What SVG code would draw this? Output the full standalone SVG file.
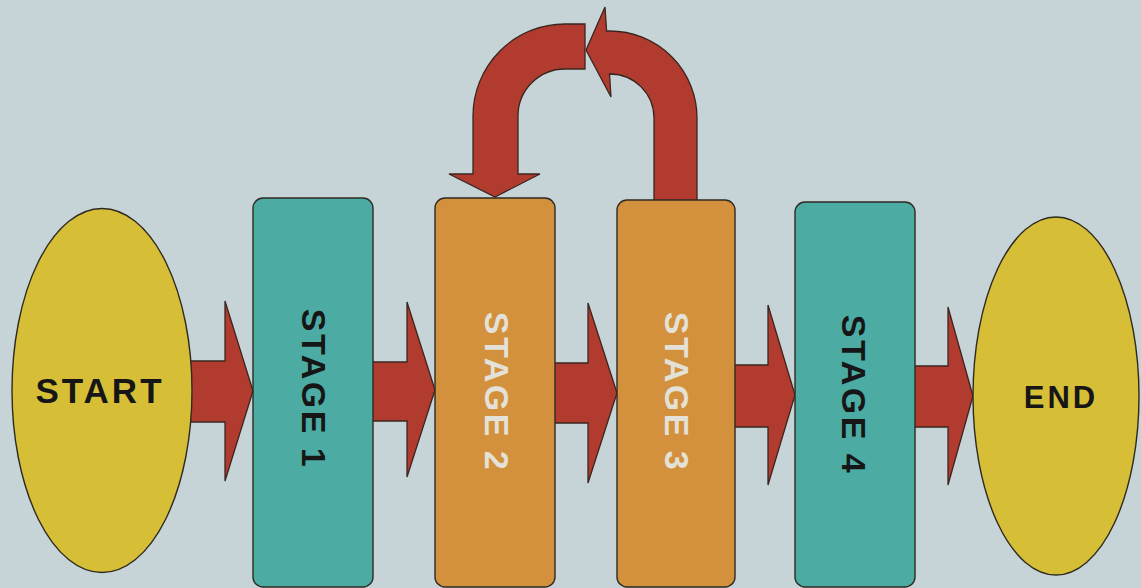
<svg xmlns="http://www.w3.org/2000/svg" width="1141" height="588" viewBox="0 0 1141 588">
<style>
.arrow{fill:#b23b2f;stroke:#3a2620;stroke-width:1.3;stroke-linejoin:miter}
.node{stroke:#2e2a22;stroke-width:1.4}
.teal{fill:#4caca4}
.orange{fill:#d3913d}
.yellow{fill:#d6bf37}
.lbl{font-family:"Liberation Sans",Arial,sans-serif;font-weight:bold}
.dark{fill:#161616}
.light{fill:#e4e1d8}
</style>
<rect x="0" y="0" width="1141" height="588" fill="#c7d4d7"/>
<g id="connectors">
<path class="arrow" d="M185,361 L225,361 L225,301 L253,391 L225,481 L225,422 L185,422 Z"/>
<path class="arrow" d="M368,362 L407,362 L407,302 L435,390 L407,477 L407,421 L368,421 Z"/>
<path class="arrow" d="M550,363 L588,363 L588,303 L617,393 L588,483 L588,423 L550,423 Z"/>
<path class="arrow" d="M730,365 L768,365 L768,305 L795,395 L768,485 L768,427 L730,427 Z"/>
<path class="arrow" d="M910,366 L948,366 L948,307 L973,396 L948,485 L948,427 L910,427 Z"/>
<path class="arrow" d="M585,24 L565,24 A92,92 0 0 0 473,116 L473,174 L449,174 L495,197 L540,174 L518,174 L518,116 A47,47 0 0 1 565,69 L585,69 Z"/>
<path class="arrow" d="M697,205 L697,118 A87,87 0 0 0 610,31 L606.6,31 L605,7 L586,50 L611,97 L609.5,74 L610,74 A44,44 0 0 1 654,118 L654,205 Z"/>
</g>
<g id="start">
<ellipse class="node yellow" cx="102" cy="390.5" rx="90" ry="182"/>
<text class="lbl dark" x="100" y="403" font-size="35" letter-spacing="3" text-anchor="middle">START</text>
</g>
<g id="stage1">
<rect class="node teal" x="253" y="198" width="120" height="389" rx="10"/>
<text class="lbl dark" transform="translate(302,389) rotate(90)" font-size="34" letter-spacing="2.5" text-anchor="middle">STAGE 1</text>
</g>
<g id="stage2">
<rect class="node orange" x="435" y="198" width="120" height="389" rx="10"/>
<text class="lbl light" transform="translate(485,392) rotate(90)" font-size="34" letter-spacing="2.5" text-anchor="middle">STAGE 2</text>
</g>
<g id="stage3">
<rect class="node orange" x="617" y="200" width="118" height="387" rx="10"/>
<text class="lbl light" transform="translate(665,392) rotate(90)" font-size="34" letter-spacing="2.5" text-anchor="middle">STAGE 3</text>
</g>
<g id="stage4">
<rect class="node teal" x="795" y="202" width="120" height="385" rx="10"/>
<text class="lbl dark" transform="translate(842,395) rotate(90)" font-size="34" letter-spacing="2.5" text-anchor="middle">STAGE 4</text>
</g>
<g id="end">
<ellipse class="node yellow" cx="1056" cy="396" rx="83" ry="179"/>
<text class="lbl dark" x="1061" y="408" font-size="31" letter-spacing="3" text-anchor="middle">END</text>
</g>
</svg>
